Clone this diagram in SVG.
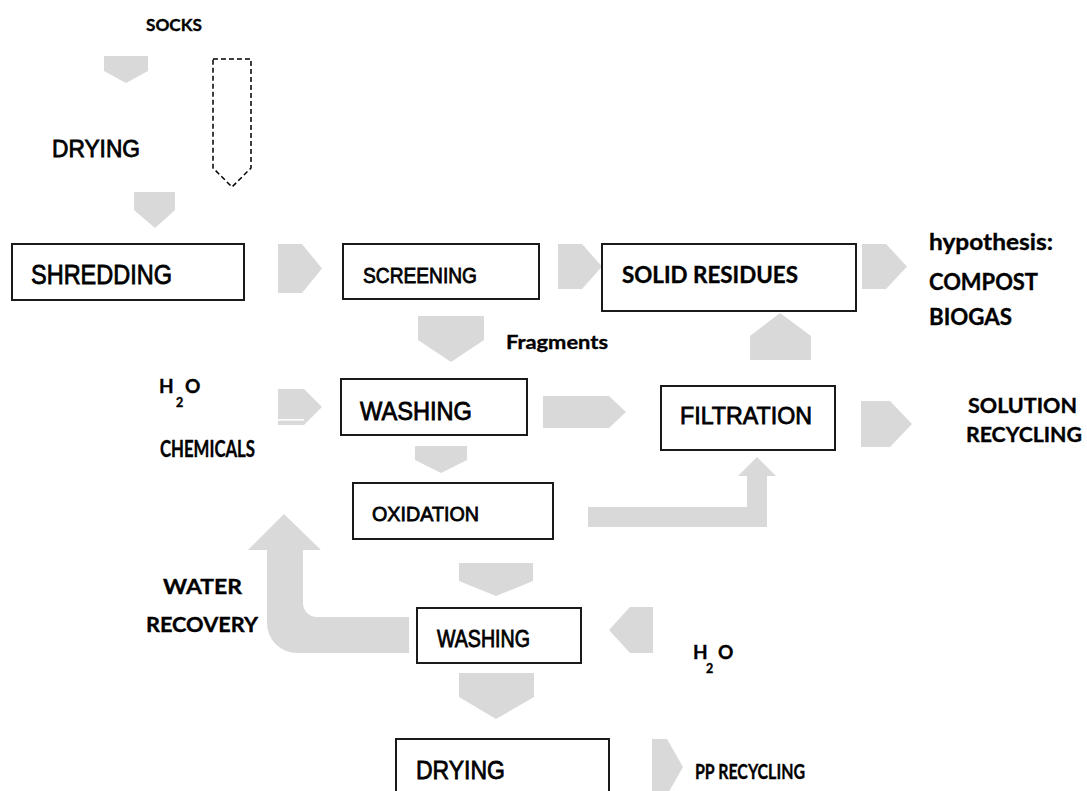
<svg xmlns="http://www.w3.org/2000/svg" width="1087" height="791" viewBox="0 0 1087 791">
<style>
.box{fill:#fff;stroke:#1a1a1a;stroke-width:2}
.ar{fill:#d9d9d9;stroke:none}
.a{font-family:"Liberation Sans",Arial,sans-serif;fill:#000;stroke:#000;stroke-width:0.8}
.c{font-family:Lato,"Open Sans",sans-serif;font-weight:bold;fill:#000;stroke:#000;stroke-width:0.35}
</style>
<rect width="1087" height="791" fill="#fff"/>
<g id="connectors">
<path class="ar" d="M104 56H148V71L126 83L104 71Z"/>
<path d="M213 59H251V168L232 187L213 168Z" fill="none" stroke="#000" stroke-width="1.5" stroke-dasharray="5 3"/>
<path class="ar" d="M134 192H175V210L155 228L134 210Z"/>
<path class="ar" d="M278 244H302L322 268.5L302 293H278Z"/>
<path class="ar" d="M558 244H582L602 266.5L582 289H558Z"/>
<path class="ar" d="M862 244H886L907 266.5L886 289H862Z"/>
<path class="ar" d="M750 360V336L780 313L811 336V360Z"/>
<path class="ar" d="M418 316H484V340L451 362L418 340Z"/>
<path class="ar" d="M278 389H304L322 407L304 425H278Z"/>
<rect x="278" y="419" width="26" height="1.6" fill="#fff"/>
<path class="ar" d="M543 396H609L626 412L609 428H543Z"/>
<path class="ar" d="M861 401H890L912 424L890 447H861Z"/>
<path class="ar" d="M415 446H467V460L441 473L415 460Z"/>
<path class="ar" d="M588 507H747V476H738L757 457L776 476H767V527H588Z"/>
<path class="ar" d="M409 617H317A14 14 0 0 1 303 603V550H321L284 514L248 550H267V623A30 30 0 0 0 297 653H409Z"/>
<path class="ar" d="M459 563H533V581L496 596L459 581Z"/>
<path class="ar" d="M653 607V653H630L609 630L630 607Z"/>
<path class="ar" d="M459 673H534V697L496 719L459 697Z"/>
<path class="ar" d="M652 739H667L683 767L667 795H652Z"/>
</g>
<g id="labels">
<text class="c" x="146" y="31" font-size="17.5" textLength="56" lengthAdjust="spacingAndGlyphs">SOCKS</text>
<text class="a" x="52" y="157" font-size="24" textLength="88" lengthAdjust="spacingAndGlyphs">DRYING</text>
<text class="c" x="506" y="349" font-size="19" textLength="102" lengthAdjust="spacingAndGlyphs">Fragments</text>
<text class="c" x="929" y="250" font-size="23.5" textLength="124" lengthAdjust="spacingAndGlyphs">hypothesis:</text>
<text class="c" x="929" y="290" font-size="23.5" textLength="109" lengthAdjust="spacingAndGlyphs">COMPOST</text>
<text class="c" x="929" y="325" font-size="23.5" textLength="83" lengthAdjust="spacingAndGlyphs">BIOGAS</text>
<text class="c" x="159" y="393" font-size="19">H</text>
<text class="c" x="176" y="407" font-size="12.5">2</text>
<text class="c" x="185" y="393" font-size="19">O</text>
<text class="c" x="160" y="457" font-size="22" textLength="95" lengthAdjust="spacingAndGlyphs">CHEMICALS</text>
<text class="c" x="968" y="413" font-size="21" textLength="109" lengthAdjust="spacingAndGlyphs">SOLUTION</text>
<text class="c" x="966" y="442" font-size="21" textLength="116" lengthAdjust="spacingAndGlyphs">RECYCLING</text>
<text class="c" x="163" y="594" font-size="20.5" textLength="79" lengthAdjust="spacingAndGlyphs">WATER</text>
<text class="c" x="146" y="632" font-size="20.5" textLength="112" lengthAdjust="spacingAndGlyphs">RECOVERY</text>
<text class="c" x="693" y="659" font-size="19">H</text>
<text class="c" x="706" y="673" font-size="12.5">2</text>
<text class="c" x="718" y="659" font-size="19">O</text>
<text class="c" x="695" y="779" font-size="21.5" textLength="110" lengthAdjust="spacingAndGlyphs">PP RECYCLING</text>
</g>
<g id="shredding">
<rect class="box" x="12" y="244" width="232" height="56"/>
<text class="a" x="31" y="284" font-size="27" textLength="141" lengthAdjust="spacingAndGlyphs">SHREDDING</text>
</g>
<g id="screening">
<rect class="box" x="343" y="244" width="196" height="55"/>
<text class="a" x="363" y="283" font-size="22" textLength="114" lengthAdjust="spacingAndGlyphs">SCREENING</text>
</g>
<g id="solid-residues">
<rect class="box" x="602" y="244" width="254" height="67"/>
<text class="c" x="622" y="283" font-size="22" textLength="176" lengthAdjust="spacingAndGlyphs">SOLID RESIDUES</text>
</g>
<g id="washing1">
<rect class="box" x="341" y="379" width="186" height="56"/>
<text class="a" x="360" y="420" font-size="25" textLength="112" lengthAdjust="spacingAndGlyphs">WASHING</text>
</g>
<g id="filtration">
<rect class="box" x="661" y="386" width="174" height="64"/>
<text class="a" x="680" y="424" font-size="24" textLength="132" lengthAdjust="spacingAndGlyphs">FILTRATION</text>
</g>
<g id="oxidation">
<rect class="box" x="353" y="483" width="200" height="56"/>
<text class="a" x="372" y="521" font-size="21" textLength="107" lengthAdjust="spacingAndGlyphs">OXIDATION</text>
</g>
<g id="washing2">
<rect class="box" x="417" y="608" width="164" height="55"/>
<text class="a" x="437" y="647" font-size="23" textLength="93" lengthAdjust="spacingAndGlyphs">WASHING</text>
</g>
<g id="drying2">
<rect class="box" x="396" y="739" width="213" height="70"/>
<text class="a" x="416" y="779" font-size="26" textLength="89" lengthAdjust="spacingAndGlyphs">DRYING</text>
</g>
</svg>
